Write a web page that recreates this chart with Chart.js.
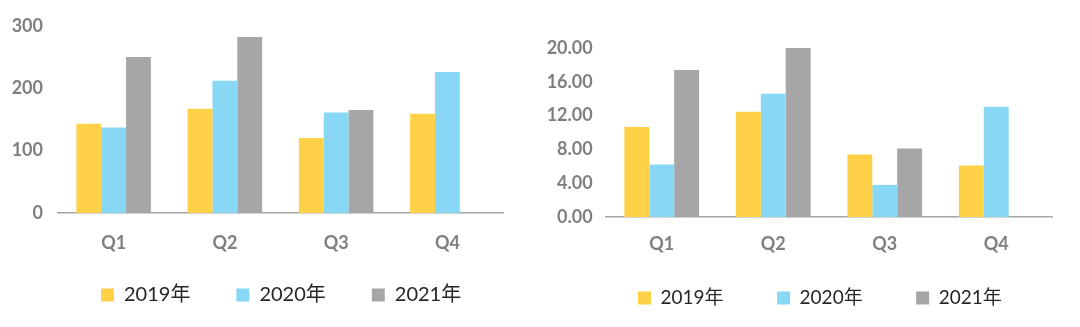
<!DOCTYPE html>
<html lang="zh">
<head>
<meta charset="UTF-8">
<title>季度对比</title>
<script src="https://cdn.jsdelivr.net/npm/chart.js"></script>
<style>
  html, body { margin: 0; padding: 0; background: #fff; }
  .wrap { position: relative; width: 1080px; height: 327px; }
  .box { position: absolute; top: 0; width: 540px; height: 327px; }
  #leftBox { left: 0; }
  #rightBox { left: 540px; }
</style>
</head>
<body>
<div class="wrap">
  <div class="box" id="leftBox"><canvas id="leftChart" width="540" height="327"></canvas></div>
  <div class="box" id="rightBox"><canvas id="rightChart" width="540" height="327"></canvas></div>
</div>
<script>
const quarters = ['Q1', 'Q2', 'Q3', 'Q4'];
const years = ['2019年', '2020年', '2021年'];
const colors = ['#FFD147', '#87D7F5', '#A6A6A6'];

// left panel
const left2019 = [143, 167, 120, 159];
const left2020 = [137, 212, 161, 226];
const left2021 = [250, 282, 165, null];

// right panel
const right2019 = [10.65, 12.45, 7.4, 6.1];
const right2020 = [6.2, 14.6, 3.8, 13.05];
const right2021 = [17.4, 20.2, 8.1, null];

const fontFamily = 'Lato, "Noto Sans CJK SC"';
const tickFont = { family: fontFamily, size: 18, weight: 'bold' };
const tickColor = '#7f7f7f';

// legend row sits closer to the axis labels than its padding would allow,
// so move the legend box after layout: x = first swatch, y = top of the row.
// the box is stretched to the canvas edge so the legend clip keeps the row.
const legendPlace = {
  id: 'legendPlace',
  afterLayout(chart, args, opts) {
    const lg = chart.legend;
    const pad = lg.options.labels.padding;
    lg.left = opts.x - pad;
    lg.top = opts.y - pad;
    lg.right = chart.width;
    lg.bottom = chart.height;
  }
};

function makeDatasets(series) {
  return series.map((data, i) => ({
    label: years[i],
    data: data,
    backgroundColor: colors[i],
    borderWidth: 0,
    barPercentage: 1,
    categoryPercentage: 0.67
  }));
}

function makeChart(id, series, opt) {
  return new Chart(document.getElementById(id), {
    type: 'bar',
    data: { labels: quarters, datasets: makeDatasets(series) },
    plugins: [legendPlace],
    options: {
      responsive: false,
      animation: false,
      layout: { padding: opt.padding },
      plugins: {
        tooltip: { enabled: false },
        legendPlace: opt.legendAt,
        legend: {
          position: 'bottom',
          align: 'start',
          maxHeight: 50,
          labels: {
            boxWidth: 13,
            boxHeight: 13,
            padding: opt.legendPad,
            color: '#262626',
            font: { family: fontFamily, size: opt.legendSize }
          }
        }
      },
      scales: {
        x: {
          grid: { display: false, drawTicks: false },
          border: { display: true, color: '#a6a6a6', width: 1.5 },
          ticks: { color: tickColor, font: tickFont, padding: opt.xPad },
          afterFit: (scale) => { scale.height = 40; }
        },
        y: {
          min: 0,
          max: opt.max,
          grid: { display: false, drawTicks: false },
          border: { display: false },
          ticks: {
            stepSize: opt.step,
            color: tickColor,
            font: tickFont,
            padding: opt.yPad,
            callback: opt.format
          },
          afterFit: (scale) => { scale.width = opt.yWidth; }
        }
      }
    }
  });
}

makeChart('leftChart', [left2019, left2020, left2021], {
  padding: { top: 19, right: 37, bottom: 24, left: 0 },
  legendPad: 46, legendSize: 20,
  legendAt: { x: 101, y: 285 },
  max: 300, step: 100,
  format: (v) => v,
  xPad: 19,
  yPad: 15, yWidth: 58
});

makeChart('rightChart', [right2019, right2020, right2021], {
  padding: { top: 48, right: 28, bottom: 20, left: 0 },
  legendPad: 53.5, legendSize: 19,
  legendAt: { x: 98, y: 288.5 },
  max: 20, step: 4,
  format: (v) => v.toFixed(2),
  xPad: 16.4,
  yPad: 13.3, yWidth: 66
});
</script>
</body>
</html>
